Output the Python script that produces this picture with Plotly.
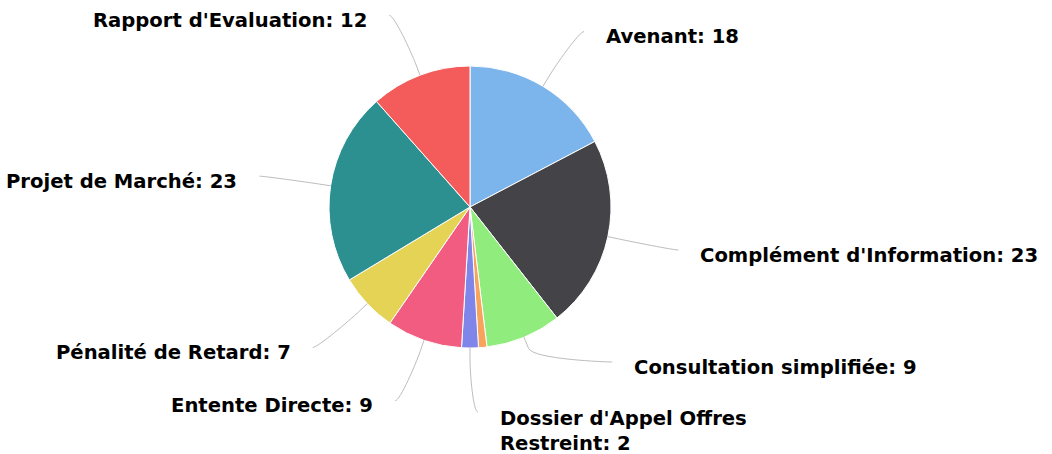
import math
import textwrap
import plotly.graph_objects as go

# ---- data ----
categories = [
    "Avenant",
    "Complément d'Information",
    "Consultation simplifiée",
    "Autre",
    "Dossier d'Appel Offres Restreint",
    "Entente Directe",
    "Pénalité de Retard",
    "Projet de Marché",
    "Rapport d'Evaluation",
]
values = [18, 23, 9, 1, 2, 9, 7, 23, 12]
colors = ["#7cb5ec", "#434348", "#90ed7d", "#f7a35c", "#8085e9",
          "#f15c80", "#e4d354", "#2b908f", "#f45b5b"]

# ---- layout constants (pixels) ----
W, H = 1052, 454
CX, CY, R = 470, 207, 141
LABEL_R = 205
X_PAD = 8
BREAK = 12
TEXT_GAP = 20
TEXT_DY = 5
GAP_H = 25
TEXT_LINE = 27
FONT_SIZE = 19.6


def px(x):
    return x / W


def py(y):
    return 1 - y / H


fig = go.Figure(go.Pie(
    labels=categories,
    values=values,
    sort=False,
    direction="clockwise",
    rotation=0,
    marker=dict(colors=colors, line=dict(color="white", width=1)),
    textinfo="none",
    domain=dict(x=[px(CX - R), px(CX + R)], y=[py(CY + R), py(CY - R)]),
    showlegend=False,
    hovertemplate="%{label}: %{value}<extra></extra>",
))

total = sum(values)
labels = []
cum = 0
for name, v in zip(categories, values):
    a = math.radians((cum + v / 2) / total * 360)
    cum += v
    if v / total < 0.01:
        continue  # too small; label hidden as in the original
    right = math.degrees(a) <= 180 + 1e-9
    text = f"{name}: {v}"
    lines = textwrap.wrap(text, 22) if len(text) > 30 else [text]
    labels.append(dict(a=a, right=right, lines=lines, y=CY - LABEL_R * math.cos(a)))

# push overlapping labels apart (bottom-up on each side)
for side in (True, False):
    grp = sorted([l for l in labels if l["right"] == side], key=lambda l: -l["y"])
    for lower, upper in zip(grp, grp[1:]):
        need = GAP_H * len(lower["lines"])
        if lower["y"] - upper["y"] < need:
            upper["y"] = lower["y"] - need

shapes = []
annotations = []
for l in labels:
    a = l["a"]
    s = 1 if l["right"] else -1
    ay = l["y"]
    dy = ay - CY
    ax = CX + s * (math.sqrt(max(LABEL_R ** 2 - dy ** 2, 0)) + X_PAD)
    tx, ty = CX + R * math.sin(a), CY - R * math.cos(a)
    bx, by = CX + (R + BREAK) * math.sin(a), CY - (R + BREAK) * math.cos(a)
    path = (f"M {px(ax)} {py(ay)} "
            f"C {px(ax - s * 5)} {py(ay)}, {px(2 * bx - tx)} {py(2 * by - ty)}, {px(bx)} {py(by)} "
            f"L {px(tx)} {py(ty)}")
    shapes.append(dict(type="path", xref="paper", yref="paper", path=path,
                       line=dict(color="#bdbdbd", width=1)))
    n = len(l["lines"])
    annotations.append(dict(
        text="<b>" + "<br>".join(l["lines"]) + "</b>",
        xref="paper", yref="paper",
        x=px(ax + s * TEXT_GAP),
        y=py(ay + TEXT_DY + TEXT_LINE * (n - 1) / 2),
        xanchor="left" if l["right"] else "right",
        yanchor="middle",
        align="left" if l["right"] else "right",
        showarrow=False,
        font=dict(family="DejaVu Sans", size=FONT_SIZE, color="#000000"),
    ))

fig.update_layout(
    width=W, height=H, autosize=False,
    margin=dict(l=0, r=0, t=0, b=0),
    paper_bgcolor="white", plot_bgcolor="white",
    shapes=shapes, annotations=annotations,
)

fig.write_html("out.html", config={"displayModeBar": False},
               post_script="document.body.style.margin='0';")
